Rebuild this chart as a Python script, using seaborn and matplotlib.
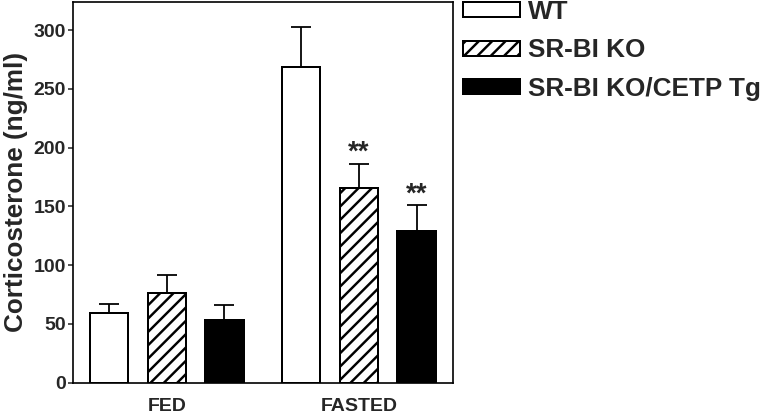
import numpy as np
import pandas as pd
import matplotlib
matplotlib.use("Agg")
import matplotlib.pyplot as plt
import seaborn as sns

# datos
conditions = ["FED", "FASTED"]
genotypes = ["WT", "SR-BI KO", "SR-BI KO/CETP Tg"]
fed_mean = [59, 76, 53]
fed_err = [8, 16, 13]
fasted_mean = [269, 166, 129]
fasted_err = [34, 20, 22]
fasted_marks = ["", "**", "**"]

df = pd.DataFrame({
    "condition": np.repeat(conditions, 3),
    "genotype": genotypes * 2,
    "value": fed_mean + fasted_mean,
    "err": fed_err + fasted_err,
    "mark": [""] * 3 + fasted_marks,
})

sns.set_style("ticks")
plt.rcParams["font.family"] = ["Liberation Sans", "DejaVu Sans"]
plt.rcParams["font.weight"] = "bold"
plt.rcParams["hatch.linewidth"] = 2.2
plt.rcParams["hatch.color"] = "black"

fig = plt.figure(figsize=(761 / 80, 414 / 80), dpi=80)
ax = fig.add_axes([72.7 / 761, 1 - 382.7 / 414, (453 - 72.7) / 761, (382.7 - 2) / 414])

sns.barplot(data=df, x="condition", y="value", hue="genotype", order=conditions,
            hue_order=genotypes, palette=["white", "white", "black"], saturation=1,
            edgecolor="black", linewidth=1.8, width=0.9, gap=1 / 3, errorbar=None,
            legend=False, ax=ax)

# sombreado para SR-BI KO
for bar in ax.containers[1]:
    bar.set_hatch("//")

# barras de error (solo hacia arriba) y asteriscos
for i, g in enumerate(genotypes):
    sub = df[df["genotype"] == g].set_index("condition").loc[conditions]
    bars = ax.containers[i]
    xs = [b.get_x() + b.get_width() / 2 for b in bars]
    ys = [b.get_height() for b in bars]
    ax.errorbar(xs, ys, yerr=[np.zeros(len(xs)), sub["err"].values], fmt="none",
                ecolor="black", elinewidth=1.6, capsize=9, capthick=1.6, zorder=1)
    for x, y, e, m in zip(xs, ys, sub["err"].values, sub["mark"].values):
        if m:
            ax.text(x, y + e + 3.5, m, ha="center", va="baseline", fontsize=25,
                    fontweight="bold")

ax.set_ylim(0, 324)
ax.set_yticks(range(0, 301, 50))
ax.set_xlabel("")
ax.set_ylabel("Corticosterone (ng/ml)", fontsize=23.5, fontweight="bold", labelpad=5)
ax.tick_params(axis="y", labelsize=17.5, length=4.5, width=1.4, pad=1.5)
ax.tick_params(axis="x", labelsize=17.5, length=0, pad=14)
for s in ax.spines.values():
    s.set_linewidth(1.5)
    s.set_color("black")

ax.legend(handles=ax.containers, labels=genotypes, loc="upper left",
          bbox_to_anchor=(463 / 761, 1.0), bbox_transform=fig.transFigure,
          frameon=False, fontsize=23.5, handlelength=2.2, handleheight=0.5,
          handletextpad=0.28, labelspacing=0.55, borderpad=0, borderaxespad=0)

fig.savefig("out.png", dpi=80)
